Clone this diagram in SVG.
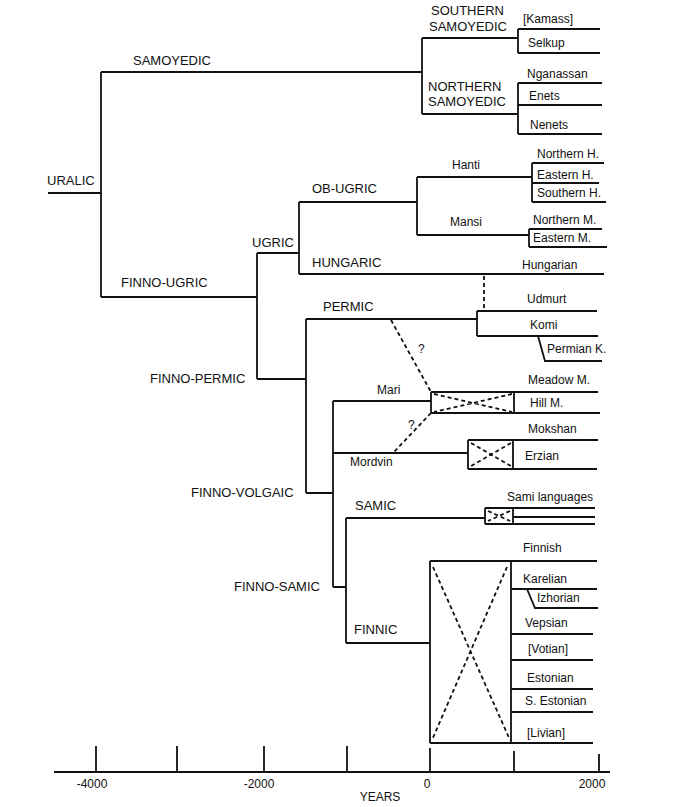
<svg xmlns="http://www.w3.org/2000/svg" width="679" height="807" viewBox="0 0 679 807">
<style>
text{font-family:"Liberation Sans",Arial,sans-serif;fill:#111}
.c{font-size:13px}
.l{font-size:12px}
.ln{fill:none;stroke:#111;stroke-width:1.8}
.d{fill:none;stroke:#111;stroke-width:1.8;stroke-dasharray:4 3}
</style>
<rect width="679" height="807" fill="#fff"/>
<g id="connectors">
<path class="ln" d="M48,193H101M101,72V297M101,72H422M101,297H257"/>
<path class="ln" d="M422,38V114M422,38H518M422,114H518"/>
<path class="ln" d="M518,29V53M518,29H600M518,53H600"/>
<path class="ln" d="M518,83V134M518,83H602M518,105H602M518,134H602"/>
<path class="ln" d="M257,253V379M257,253H299M257,379H306"/>
<path class="ln" d="M299,202V274M299,202H417M299,274H604"/>
<path class="ln" d="M417,177V235M417,177H532M417,235H529"/>
<path class="ln" d="M532,163V202M532,163H604M532,183H599M532,202H606"/>
<path class="ln" d="M529,229V247M529,229H602M529,247H607"/>
<path class="d" d="M484,276V310"/>
<path class="ln" d="M306,319V493M306,319H477M306,493H333"/>
<path class="ln" d="M477,311V336M477,311H597M477,336H598M538,336L545,361H602"/>
<path class="ln" d="M333,401V587M333,401H431M333,453H468M333,587H346"/>
<path class="ln" d="M431,392V413M514,392V413M431,392H598M431,413H600"/>
<path class="d" d="M434,394L512,412M512,394L434,412"/>
<path class="ln" d="M468,440V469M513,440V469M468,440H598M468,469H597"/>
<path class="d" d="M471,443L511,466M511,443L471,466"/>
<path class="d" d="M391,320L431,392M431,413L393,453"/>
<path class="ln" d="M346,518V643M346,518H485M346,643H430"/>
<path class="ln" d="M485,508V524M513,508V524M485,508H595M513,517H595M485,524H595"/>
<path class="d" stroke-dasharray="2 2" d="M488,511L510,521M510,511L488,521"/>
<path class="ln" d="M430,561V743M511,561V743M430,561H597M430,743H593"/>
<path class="ln" d="M511,589H597M527,589L535,608H598M511,634H593M511,660H593M511,689H593M511,712H593"/>
<path class="d" d="M433,567L510,740M507,567L432,740"/>
<path class="ln" d="M54,772H610M96,746V772M177,746V772M264,746V772M347,746V772M430,748V772M514,751V772M599,754V772"/>
</g>
<g id="uralic"><text class="c" x="47" y="185">URALIC</text></g>
<g id="samoyedic"><text class="c" x="133" y="65">SAMOYEDIC</text></g>
<g id="southern-samoyedic"><text class="c" x="431" y="15">SOUTHERN</text><text class="c" x="429" y="31">SAMOYEDIC</text></g>
<g id="northern-samoyedic"><text class="c" x="428" y="91">NORTHERN</text><text class="c" x="428" y="106">SAMOYEDIC</text></g>
<g id="kamass"><text class="l" x="523" y="23">[Kamass]</text></g>
<g id="selkup"><text class="l" x="528" y="47">Selkup</text></g>
<g id="nganassan"><text class="l" x="527" y="78">Nganassan</text></g>
<g id="enets"><text class="l" x="529" y="100">Enets</text></g>
<g id="nenets"><text class="l" x="530" y="129">Nenets</text></g>
<g id="finno-ugric"><text class="c" x="121" y="287">FINNO-UGRIC</text></g>
<g id="ugric"><text class="c" x="252" y="247">UGRIC</text></g>
<g id="ob-ugric"><text class="c" x="312" y="193">OB-UGRIC</text></g>
<g id="hungaric"><text class="c" x="312" y="267">HUNGARIC</text></g>
<g id="hanti"><text class="l" x="452" y="169">Hanti</text></g>
<g id="mansi"><text class="l" x="450" y="226">Mansi</text></g>
<g id="northern-h"><text class="l" x="537" y="158">Northern H.</text></g>
<g id="eastern-h"><text class="l" x="537" y="179">Eastern H.</text></g>
<g id="southern-h"><text class="l" x="537" y="197">Southern H.</text></g>
<g id="northern-m"><text class="l" x="533" y="224">Northern M.</text></g>
<g id="eastern-m"><text class="l" x="533" y="242">Eastern M.</text></g>
<g id="hungarian"><text class="l" x="522" y="269">Hungarian</text></g>
<g id="finno-permic"><text class="c" x="150" y="383">FINNO-PERMIC</text></g>
<g id="permic"><text class="c" x="323" y="311">PERMIC</text></g>
<g id="udmurt"><text class="l" x="527" y="303">Udmurt</text></g>
<g id="komi"><text class="l" x="530" y="329">Komi</text></g>
<g id="permian-k"><text class="l" x="547" y="353">Permian K.</text></g>
<g id="finno-volgaic"><text class="c" x="191" y="497">FINNO-VOLGAIC</text></g>
<g id="mari"><text class="l" x="377" y="394">Mari</text></g>
<g id="mordvin"><text class="l" x="350" y="466">Mordvin</text></g>
<g id="q1"><text class="l" x="418" y="353">?</text></g>
<g id="q2"><text class="l" x="408" y="429">?</text></g>
<g id="meadow-m"><text class="l" x="528" y="384">Meadow M.</text></g>
<g id="hill-m"><text class="l" x="530" y="407">Hill M.</text></g>
<g id="mokshan"><text class="l" x="528" y="433">Mokshan</text></g>
<g id="erzian"><text class="l" x="525" y="460">Erzian</text></g>
<g id="finno-samic"><text class="c" x="234" y="591">FINNO-SAMIC</text></g>
<g id="samic"><text class="c" x="355" y="510">SAMIC</text></g>
<g id="sami-languages"><text class="l" x="507" y="501">Sami languages</text></g>
<g id="finnic"><text class="c" x="354" y="634">FINNIC</text></g>
<g id="finnish"><text class="l" x="523" y="552">Finnish</text></g>
<g id="karelian"><text class="l" x="523" y="583">Karelian</text></g>
<g id="izhorian"><text class="l" x="537" y="602">Izhorian</text></g>
<g id="vepsian"><text class="l" x="525" y="627">Vepsian</text></g>
<g id="votian"><text class="l" x="528" y="653">[Votian]</text></g>
<g id="estonian"><text class="l" x="527" y="682">Estonian</text></g>
<g id="s-estonian"><text class="l" x="525" y="705">S. Estonian</text></g>
<g id="livian"><text class="l" x="527" y="737">[Livian]</text></g>
<g id="axis">
<text class="l" x="92" y="788" text-anchor="middle">-4000</text>
<text class="l" x="259" y="788" text-anchor="middle">-2000</text>
<text class="l" x="427" y="788" text-anchor="middle">0</text>
<text class="l" x="592" y="788" text-anchor="middle">2000</text>
<text class="l" x="380" y="801" text-anchor="middle">YEARS</text>
</g>
</svg>
